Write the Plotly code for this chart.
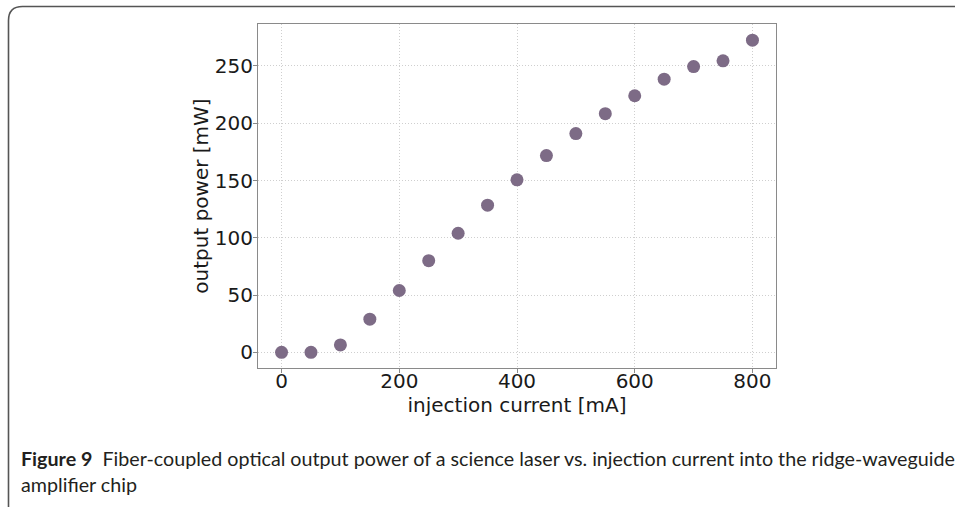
import plotly.graph_objects as go

current_mA = [0, 50, 100, 150, 200, 250, 300, 350, 400, 450, 500, 550, 600, 650, 700, 750, 800]
power_mW = [0, 0, 6.5, 29, 54, 80, 104, 128.5, 150.6, 171.8, 191, 208.4, 224, 238.5, 249.5, 254.5, 272.5]

x_ticks = [0, 200, 400, 600, 800]
y_ticks = [0, 50, 100, 150, 200, 250]

caption_bold = "Figure 9"
caption_line1 = "Fiber-coupled optical output power of a science laser vs. injection current into the ridge-waveguide"
caption_line2 = "amplifier chip"

W, H = 955, 507
L, R, T, B = 258, 776, 24, 368

def px(x):
    return (x - L) / (R - L)

def py(y):
    return (B - y) / (B - T)

fig = go.Figure()
fig.add_trace(go.Scatter(
    x=current_mA, y=power_mW, mode="markers",
    marker=dict(size=13, color="#7d6b86", line=dict(width=0)),
    showlegend=False,
))

axis_common = dict(
    showline=True, linecolor="#8a8a8a", linewidth=1, mirror=True,
    showgrid=True, gridcolor="#cfcfcf", griddash="1px,2px", gridwidth=1,
    ticks="outside", ticklen=4, tickcolor="#8a8a8a", tickwidth=1,
    zeroline=False,
    tickfont=dict(family="DejaVu Sans", size=20, color="#1a1a1a"),
)

fig.update_xaxes(
    range=[-40, 840], tickvals=x_ticks, ticklabelstandoff=-9,
    title=dict(text="injection current [mA]", font=dict(family="DejaVu Sans", size=20, color="#1a1a1a"), standoff=0),
    **axis_common,
)
fig.update_yaxes(
    range=[-13.65, 286.65], tickvals=y_ticks, ticklabelstandoff=-4,
    title=dict(text="output power [mW]", font=dict(family="DejaVu Sans", size=20, color="#1a1a1a"), standoff=0),
    **axis_common,
)

# outer rounded frame (top-left and bottom-left corners, extends past right edge)
r = 14
x0, y0, x1, y1 = 8.5, 6.5, 975, 520
path = (f"M {px(x1)},{py(y0)} L {px(x0 + r)},{py(y0)} "
        f"Q {px(x0)},{py(y0)} {px(x0)},{py(y0 + r)} "
        f"L {px(x0)},{py(y1 - r)} Q {px(x0)},{py(y1)} {px(x0 + r)},{py(y1)}")
fig.add_shape(type="path", path=path, xref="paper", yref="paper",
              line=dict(color="#555555", width=1.6), layer="above")

fig.add_annotation(
    x=px(19), y=py(458), xref="paper", yref="paper", xanchor="left", yanchor="middle",
    text=f"<b>{caption_bold}</b>  {caption_line1}", showarrow=False, align="left",
    font=dict(family="Lato", size=19.7, color="#231f20"),
)
fig.add_annotation(
    x=px(19), y=py(484), xref="paper", yref="paper", xanchor="left", yanchor="middle",
    text=caption_line2, showarrow=False, align="left",
    font=dict(family="Lato", size=19.7, color="#231f20"),
)

fig.update_layout(
    width=W, height=H,
    margin=dict(l=L, r=W - R, t=T, b=H - B),
    paper_bgcolor="white", plot_bgcolor="white",
)

fig.write_html("out.html")
